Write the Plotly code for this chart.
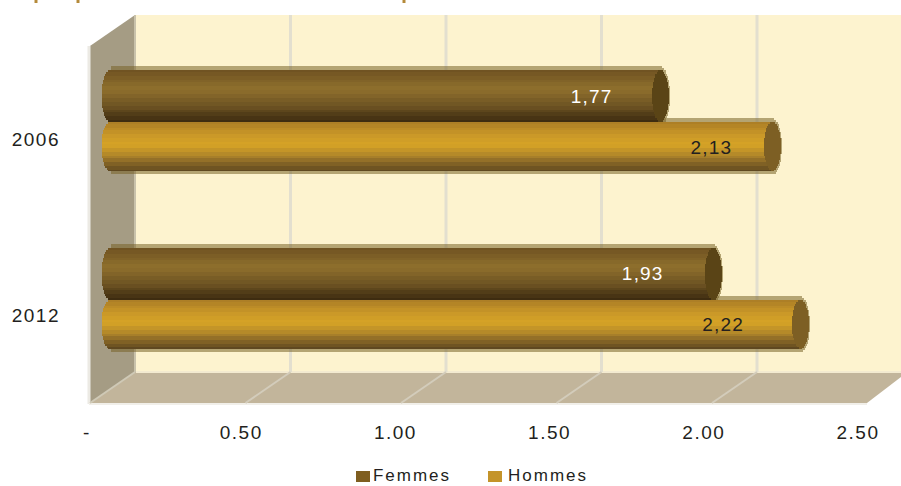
import math
import plotly.graph_objects as go

years = ["2006", "2012"]
femmes = [1.77, 1.94]
hommes = [2.13, 2.22]
series_names = ["Femmes", "Hommes"]
series_colors = ["#7f5e20", "#c4942a"]
x_ticks = [0, 0.5, 1.0, 1.5, 2.0, 2.5]
x_labels = ["-", "0.50", "1.00", "1.50", "2.00", "2.50"]
femmes_labels = ["1,77", "1,93"]
hommes_labels = ["2,13", "2,22"]

W, H = 901, 486
SX = 311.0          # px per unit, x
X0 = 110.0          # px of value 0 on bars
SY = 177.5          # px per category
Y0 = 122.0          # px of first category


def lerp_stops(stops, t):
    for (t0, c0), (t1, c1) in zip(stops, stops[1:]):
        if t <= t1:
            f = (t - t0) / (t1 - t0) if t1 > t0 else 0
            return tuple(round(a + (b - a) * f) for a, b in zip(c0, c1))
    return stops[-1][1]


def rgb(c):
    return f"rgb({c[0]},{c[1]},{c[2]})"


F_STOPS = [(0, (112, 83, 34)), (.38, (143, 112, 45)), (.7, (107, 81, 34)), (.88, (78, 58, 22)), (1, (62, 44, 16))]
H_STOPS = [(0, (173, 127, 38)), (.3, (204, 154, 40)), (.47, (216, 165, 38)), (.72, (166, 126, 42)), (.88, (122, 92, 36)), (1, (95, 72, 32))]
CAPS = [(90, 68, 22), (125, 95, 36)]
LAYOUTS = [(-52, 0, F_STOPS, femmes, 0), (0, 49, H_STOPS, hommes, 1)]
STRIP = 2
CAP_R = 8.5

traces = []


def strip_trace(top, bottom, base_px, len_px, color):
    """A horizontal strip, positioned by category + pixel offset."""
    return go.Bar(
        y=years, x=[l / SX for l in len_px], base=[b / SX for b in base_px],
        orientation="h", width=(bottom - top) / SY, offset=top / SY,
        marker=dict(color=color, line=dict(width=0)),
        showlegend=False, hoverinfo="skip", xaxis="x", yaxis="y",
    )


# soft rim behind the cylinders
for top, bottom, stops, vals, idx in LAYOUTS:
    h = bottom - top
    cy = (top + bottom) / 2
    for i in range(-2, h // STRIP + 2):
        a = top + i * STRIP
        b = a + STRIP
        u = min(1, abs((a + b) / 2 - cy) / (h / 2 + 3.5))
        e = (CAP_R + 1) * math.sqrt(max(0, 1 - u * u))
        bases = [1 for v in vals]
        lens = [v * SX + e - 1 for v in vals]
        traces.append(strip_trace(a, b, bases, lens, "rgba(120,98,40,0.55)"))

# cylinder bodies
for top, bottom, stops, vals, idx in LAYOUTS:
    h = bottom - top
    cy = (top + bottom) / 2
    for i in range(h // STRIP + (1 if h % STRIP else 0)):
        a = top + i * STRIP
        b = min(a + STRIP, bottom)
        u = ((a + b) / 2 - cy) / (h / 2)
        e = CAP_R * math.sqrt(max(0, 1 - u * u))
        t = (a + b) / 2
        t = (t - top) / h
        t = round(t * 14) / 14
        c = rgb(lerp_stops(stops, t))
        traces.append(strip_trace(a, b, [-e, -e], [v * SX + e for v in vals], c))
        traces.append(strip_trace(a, b, [v * SX - e for v in vals], [2 * e, 2 * e], rgb(CAPS[idx])))

# value labels
for vals, ratio, labels, color, dy in [
    (femmes, [.875, .883], femmes_labels, "#ffffff", -24),
    (hommes, [.908, .888], hommes_labels, "#231f20", 27),
]:
    traces.append(go.Scatter(
        x=[v * r for v, r in zip(vals, ratio)],
        y=years, mode="text", text=labels, textposition="middle center",
        textfont=dict(color=color, size=19, family="Liberation Sans"),
        showlegend=False, hoverinfo="skip", xaxis="x4", yaxis="y3" if dy < 0 else "y4",
    ))

# carriers for the shifted tick-label axes
traces.append(go.Scatter(x=x_ticks, y=[years[0]] * 6, mode="markers", marker=dict(opacity=0),
                         showlegend=False, hoverinfo="skip", xaxis="x2", yaxis="y2"))
traces.append(go.Scatter(x=[0, 0], y=years, mode="markers", marker=dict(opacity=0),
                         showlegend=False, hoverinfo="skip", xaxis="x2", yaxis="y2"))

fig = go.Figure(traces)

FX0, FY, BX0, BY, TOP = 90, 403, 135, 372, 15


def sx(px):
    return px / W


def sy(px):
    return 1 - px / H


shapes = []


def poly(points, fill, line=None, lw=0, layer="below"):
    p = "M " + " L ".join(f"{sx(a):.5f},{sy(b):.5f}" for a, b in points) + " Z"
    shapes.append(dict(type="path", path=p, xref="paper", yref="paper", fillcolor=fill,
                       line=dict(width=lw, color=line or fill), layer=layer))


def seg(a, b, color, w=3, layer="below"):
    shapes.append(dict(type="line", x0=sx(a[0]), y0=sy(a[1]), x1=sx(b[0]), y1=sy(b[1]),
                       xref="paper", yref="paper", line=dict(color=color, width=w), layer=layer))


poly([(BX0, TOP), (W, TOP), (W, BY), (BX0, BY)], "#fdf3cf")                 # back wall
poly([(FX0, FY), (867, FY), (W, 377), (W, BY), (BX0, BY)], "#c2b59b")       # floor
poly([(FX0, 46), (BX0, TOP), (BX0, BY), (FX0, FY)], "#a59c84")              # left wall
seg((BX0, TOP), (BX0, BY), "#c9c2ab", 2)
seg((FX0 - 1, 46), (FX0 - 1, FY + 1), "#eceae4", 3)
seg((FX0 - 1, FY + 1), (867, FY + 1), "#f1efe9", 2)
seg((BX0 + 1, BY), (W, BY), "#f3ead0", 2)
for k in range(1, 6):
    bx = BX0 + k * 0.5 * SX
    fx = FX0 + k * 0.5 * SX
    if bx < W:
        seg((bx, TOP), (bx, BY), "#e3dfcf", 3)
    if k < 5:
        seg((fx, FY), (min(bx, W), BY), "#d3ccbb", 2)
seg((FX0, FY), (BX0, BY), "#cfc9b6", 2)

# fragments of the cropped heading
for px in [36, 78, 404]:
    seg((px, 0), (px, 3), "#b58a3a", 3, "above")

# legend: swatch + label, placed to match the reference key
annotations = []
for name, color, sw, cx in zip(series_names, series_colors, [356, 488], [412, 548]):
    poly([(sw, 471), (sw + 14, 471), (sw + 14, 482), (sw, 482)], color, layer="above")
    annotations.append(dict(text=name, x=sx(cx), y=sy(475), xref="paper", yref="paper",
                            xanchor="center", yanchor="middle", showarrow=False,
                            width=110, align="center", borderpad=0,
                            font=dict(size=17, color="#231f20", family="Liberation Sans")))

fig.update_layout(
    width=W, height=H, autosize=False,
    margin=dict(l=0, r=0, t=0, b=0),
    paper_bgcolor="#ffffff", plot_bgcolor="rgba(0,0,0,0)",
    barmode="overlay", bargap=0, showlegend=False,
    shapes=shapes, annotations=annotations,
    font=dict(family="Liberation Sans", size=17, color="#231f20"),
    xaxis=dict(domain=[0, 1], range=[-X0 / SX, (W - X0) / SX], visible=False, fixedrange=True),
    yaxis=dict(domain=[0, 1], type="category", categoryorder="array", categoryarray=years,
               range=[(H - Y0) / SY, -Y0 / SY], visible=False, fixedrange=True),
    # tick-label axes, offset as the projected front edge
    xaxis2=dict(overlaying="x", anchor="free", position=sy(419), range=[-87 / 308.4, (W - 87) / 308.4],
                tickmode="array", tickvals=x_ticks, ticktext=x_labels, showgrid=False, zeroline=False,
                showline=False, ticks="", tickfont=dict(size=19, color="#231f20"), fixedrange=True),
    yaxis2=dict(overlaying="y", anchor="free", position=sx(60), type="category", categoryorder="array",
                categoryarray=years, range=[(H - 139) / 176, -139 / 176], showgrid=False, zeroline=False,
                showline=False, ticks="", tickfont=dict(size=19, color="#231f20"), fixedrange=True),
    xaxis4=dict(overlaying="x", range=[-X0 / SX, (W - X0) / SX], visible=False, fixedrange=True),
    yaxis3=dict(overlaying="y", type="category", categoryorder="array", categoryarray=years,
                range=[(H - Y0 + 24) / SY, (-Y0 + 24) / SY], visible=False, fixedrange=True),
    yaxis4=dict(overlaying="y", type="category", categoryorder="array", categoryarray=years,
                range=[(H - Y0 - 27) / SY, (-Y0 - 27) / SY], visible=False, fixedrange=True),
)

post = """
document.documentElement.style.margin='0';
document.body.style.margin='0';
var st=document.createElement('style');
st.textContent='.x2tick text,.y2tick text{letter-spacing:1.5px}.annotation-text{letter-spacing:2px}.textpoint text{letter-spacing:1.2px}';
document.head.appendChild(st);
"""
fig.write_html("out.html", config=dict(displayModeBar=False), post_script=post)
